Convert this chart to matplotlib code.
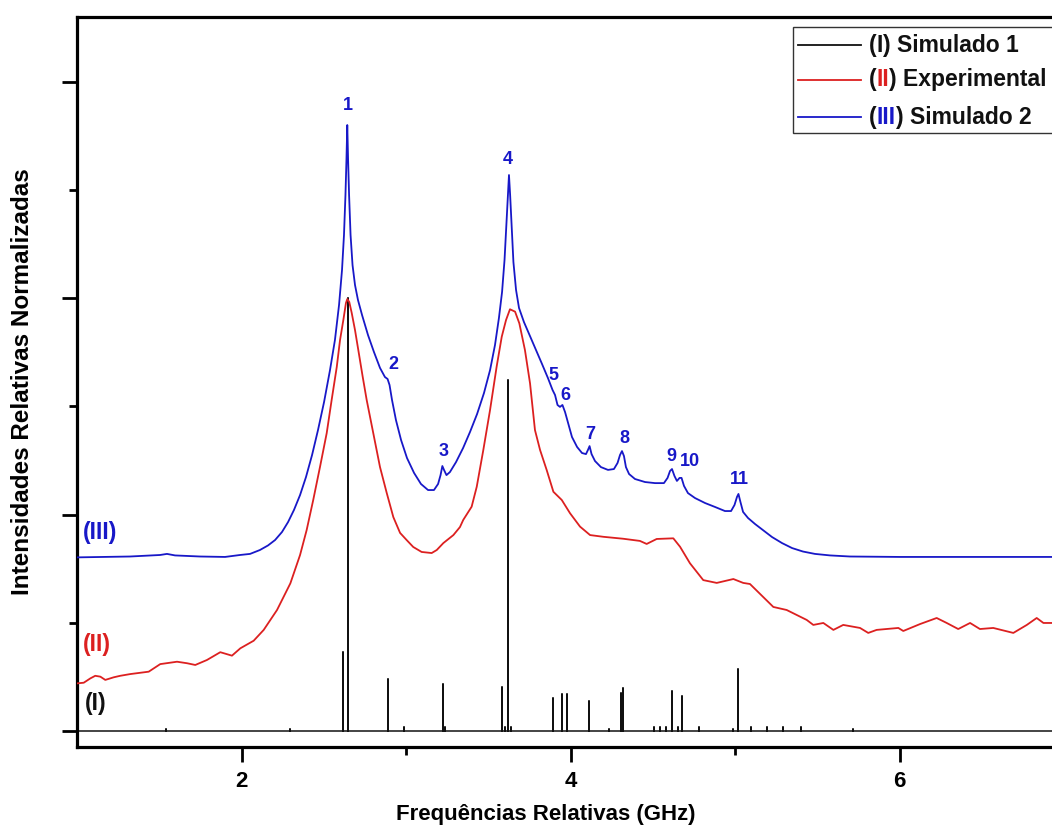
import matplotlib
matplotlib.use("Agg")
import matplotlib.pyplot as plt
from matplotlib.patches import Rectangle

plt.rcParams['font.family'] = ['Liberation Sans', 'DejaVu Sans']
plt.rcParams['font.weight'] = 'bold'

# (I) Simulated stick spectrum: line positions (GHz) and heights
sim1_freq = [1.541, 2.295, 2.619, 2.646, 2.892, 2.988, 3.223, 3.237, 3.584, 3.602,
             3.622, 3.638, 3.892, 3.948, 3.979, 4.114, 4.236, 4.305, 4.321, 4.509,
             4.544, 4.579, 4.615, 4.655, 4.678, 4.781, 4.990, 5.020, 5.097, 5.195,
             5.292, 5.401, 5.717]
sim1_int = [0.010, 0.010, 0.366, 2.000, 0.238, 0.020, 0.218, 0.020, 0.205, 0.020,
            1.620, 0.020, 0.151, 0.171, 0.171, 0.139, 0.010, 0.177, 0.199, 0.020,
            0.020, 0.020, 0.183, 0.020, 0.160, 0.020, 0.010, 0.286, 0.020, 0.020,
            0.020, 0.020, 0.010]

# (II) Experimental spectrum
exp_freq = [1.000, 1.041, 1.081, 1.111, 1.142, 1.172, 1.223, 1.263, 1.324, 1.385,
            1.436, 1.506, 1.608, 1.669, 1.719, 1.790, 1.871, 1.942, 1.993, 2.074,
            2.135, 2.216, 2.297, 2.356, 2.396, 2.436, 2.477, 2.518, 2.548, 2.579,
            2.599, 2.619, 2.635, 2.643, 2.655, 2.670, 2.690, 2.710, 2.737, 2.761,
            2.801, 2.842, 2.883, 2.923, 2.964, 3.004, 3.044, 3.095, 3.156, 3.187,
            3.227, 3.288, 3.328, 3.348, 3.399, 3.430, 3.470, 3.511, 3.551, 3.582,
            3.608, 3.632, 3.663, 3.689, 3.723, 3.754, 3.784, 3.815, 3.855, 3.896,
            3.947, 3.997, 4.058, 4.119, 4.200, 4.321, 4.422, 4.463, 4.524, 4.625,
            4.666, 4.726, 4.807, 4.889, 4.990, 5.050, 5.091, 5.233, 5.314, 5.436,
            5.476, 5.537, 5.598, 5.658, 5.760, 5.810, 5.861, 5.993, 6.023, 6.125,
            6.226, 6.287, 6.357, 6.429, 6.489, 6.570, 6.692, 6.774, 6.834, 6.875,
            6.927]
exp_int = [0.220, 0.223, 0.243, 0.255, 0.251, 0.236, 0.248, 0.255, 0.263, 0.269,
           0.274, 0.309, 0.320, 0.313, 0.305, 0.328, 0.364, 0.348, 0.382, 0.417,
           0.467, 0.559, 0.682, 0.813, 0.928, 1.067, 1.219, 1.376, 1.529, 1.681,
           1.806, 1.898, 1.977, 1.995, 1.982, 1.931, 1.852, 1.760, 1.635, 1.529,
           1.376, 1.219, 1.099, 0.988, 0.915, 0.882, 0.850, 0.827, 0.822, 0.836,
           0.868, 0.905, 0.942, 0.975, 1.036, 1.128, 1.298, 1.483, 1.683, 1.821,
           1.898, 1.948, 1.937, 1.883, 1.760, 1.606, 1.390, 1.298, 1.206, 1.105,
           1.067, 1.006, 0.944, 0.905, 0.897, 0.888, 0.878, 0.864, 0.887, 0.890,
           0.851, 0.775, 0.697, 0.684, 0.702, 0.684, 0.679, 0.573, 0.559, 0.513,
           0.490, 0.499, 0.467, 0.490, 0.476, 0.453, 0.467, 0.476, 0.462, 0.494,
           0.522, 0.499, 0.471, 0.499, 0.471, 0.476, 0.453, 0.490, 0.522, 0.499,
           0.499]

# (III) Simulated broadened spectrum
sim2_freq = [1.000, 1.322, 1.505, 1.547, 1.596, 1.748, 1.900, 1.991, 2.052, 2.112,
             2.161, 2.204, 2.246, 2.283, 2.319, 2.356, 2.392, 2.429, 2.465, 2.502,
             2.538, 2.568, 2.593, 2.611, 2.623, 2.632, 2.638, 2.643, 2.648, 2.654,
             2.663, 2.675, 2.690, 2.708, 2.733, 2.769, 2.805, 2.842, 2.872, 2.888,
             2.900, 2.915, 2.939, 2.970, 3.006, 3.049, 3.091, 3.134, 3.170, 3.195,
             3.210, 3.221, 3.231, 3.246, 3.267, 3.304, 3.347, 3.389, 3.432, 3.474,
             3.511, 3.541, 3.565, 3.584, 3.599, 3.610, 3.619, 3.626, 3.633, 3.642,
             3.653, 3.669, 3.687, 3.717, 3.754, 3.790, 3.827, 3.863, 3.891, 3.906,
             3.921, 3.936, 3.951, 3.967, 3.985, 4.009, 4.040, 4.070, 4.094, 4.106,
             4.116, 4.128, 4.149, 4.185, 4.228, 4.264, 4.286, 4.301, 4.313, 4.325,
             4.337, 4.356, 4.392, 4.453, 4.514, 4.568, 4.590, 4.605, 4.617, 4.632,
             4.647, 4.663, 4.675, 4.690, 4.714, 4.757, 4.818, 4.878, 4.939, 4.976,
             4.997, 5.012, 5.021, 5.033, 5.049, 5.079, 5.122, 5.170, 5.225, 5.286,
             5.347, 5.413, 5.486, 5.578, 5.699, 6.003, 6.927]
sim2_int = [0.802, 0.806, 0.813, 0.818, 0.811, 0.806, 0.804, 0.813, 0.818, 0.836,
            0.857, 0.882, 0.919, 0.965, 1.021, 1.090, 1.173, 1.275, 1.390, 1.520,
            1.667, 1.806, 1.968, 2.129, 2.291, 2.476, 2.637, 2.799, 2.637, 2.476,
            2.291, 2.152, 2.060, 1.991, 1.921, 1.829, 1.751, 1.677, 1.635, 1.626,
            1.598, 1.529, 1.436, 1.344, 1.261, 1.192, 1.141, 1.113, 1.113, 1.141,
            1.182, 1.224, 1.206, 1.182, 1.196, 1.242, 1.307, 1.381, 1.464, 1.561,
            1.667, 1.783, 1.908, 2.028, 2.176, 2.337, 2.476, 2.568, 2.476, 2.337,
            2.166, 2.037, 1.954, 1.889, 1.824, 1.760, 1.695, 1.630, 1.575, 1.552,
            1.506, 1.497, 1.506, 1.473, 1.423, 1.358, 1.312, 1.284, 1.279, 1.298,
            1.316, 1.279, 1.247, 1.219, 1.206, 1.210, 1.238, 1.275, 1.293, 1.270,
            1.219, 1.187, 1.164, 1.150, 1.145, 1.145, 1.169, 1.201, 1.210, 1.178,
            1.155, 1.169, 1.169, 1.132, 1.099, 1.076, 1.053, 1.035, 1.016, 1.016,
            1.044, 1.081, 1.095, 1.058, 1.012, 0.984, 0.956, 0.928, 0.896, 0.868,
            0.845, 0.829, 0.818, 0.811, 0.806, 0.804, 0.804]

# Peak numbers marked on spectrum (III)
peak_labels = ['1', '2', '3', '4', '5', '6', '7', '8', '9', '10', '11']
peak_label_x = [2.645, 2.923, 3.228, 3.621, 3.895, 3.970, 4.119, 4.327, 4.614, 4.726, 5.024]
peak_label_y = [2.890, 1.695, 1.290, 2.640, 1.640, 1.550, 1.370, 1.350, 1.270, 1.245, 1.160]

BLACK = '#111111'
RED = '#dc2020'
BLUE = '#1818c8'

fig = plt.figure(figsize=(10.52, 8.30), dpi=100)
ax = fig.add_axes([77 / 1052, 83 / 830, 987 / 1052, 730 / 830])

# stick spectrum on a zero baseline
xs, ys = [1.0], [0.0]
for f, h in zip(sim1_freq, sim1_int):
    xs += [f, f, f]
    ys += [0.0, h, 0.0]
xs.append(7.0)
ys.append(0.0)
ax.plot(xs, ys, color=BLACK, lw=1.1, zorder=2)
ax.plot(exp_freq, exp_int, color=RED, lw=1.3, zorder=3)
ax.plot(sim2_freq, sim2_int, color=BLUE, lw=1.3, zorder=4)

for s, x, y in zip(peak_labels, peak_label_x, peak_label_y):
    ax.text(x, y, s, color=BLUE, fontsize=13, fontweight='bold',
            ha='center', va='center')

# curve tags on the left
ax.text(1.036, 0.915, '(III)', color=BLUE, fontsize=16.5, fontweight='bold', va='center')
ax.text(1.036, 0.400, '(II)', color=RED, fontsize=16.5, fontweight='bold', va='center')
ax.text(1.048, 0.125, '(I)', color=BLACK, fontsize=16.5, fontweight='bold', va='center')

ax.set_xlim(1, 7)
ax.set_ylim(-0.0739, 3.298)

ax.set_xticks([2, 4, 6])
ax.set_xticks([3, 5], minor=True)
ax.set_yticks([0, 1, 2, 3])
ax.set_yticks([0.5, 1.5, 2.5], minor=True)
ax.set_yticklabels([])
ax.tick_params(which='major', direction='out', length=11, width=2.0,
               labelsize=16, pad=6)
ax.tick_params(which='minor', direction='out', length=5.5, width=2.0)
ax.tick_params(top=False, right=False, which='both')
for sp in ax.spines.values():
    sp.set_linewidth(2.3)

ax.set_xlabel('Frequências Relativas (GHz)', fontsize=16, fontweight='bold')
ax.set_ylabel('Intensidades Relativas Normalizadas', fontsize=17.5, fontweight='bold')
ax.xaxis.set_label_coords(0.475, -0.078)
ax.yaxis.set_label_coords(-0.0436, 0.5)

# legend drawn by hand so that the roman numerals can carry the series colours
ax.add_patch(Rectangle((0.7254, 0.8411), 0.30, 0.1452, transform=ax.transAxes,
                       fill=True, facecolor='white', edgecolor='#333333',
                       lw=1.0, clip_on=False, zorder=6))
rows = [
    (0.9616, BLACK, [('(', BLACK), ('I', BLACK), (') Simulado 1', BLACK)]),
    (0.9137, RED, [('(', BLACK), ('II', RED), (') Experimental', BLACK)]),
    (0.8630, BLUE, [('(', BLACK), ('III', BLUE), (') Simulado 2', BLACK)]),
]
for yrow, lc, parts in rows:
    ax.plot([0.7305, 0.7943], [yrow, yrow], color=lc, lw=1.3,
            transform=ax.transAxes, clip_on=False, zorder=7)
    t = ax.text(0.8024, yrow, parts[0][0], color=parts[0][1], fontsize=16.5,
                fontweight='bold', transform=ax.transAxes, va='center',
                ha='left', zorder=7)
    for s, c in parts[1:]:
        t = ax.annotate(s, xy=(1, 0), xycoords=t, va='bottom', ha='left',
                        color=c, fontsize=16.5, fontweight='bold', zorder=7)

fig.savefig('out.png', dpi=100)
